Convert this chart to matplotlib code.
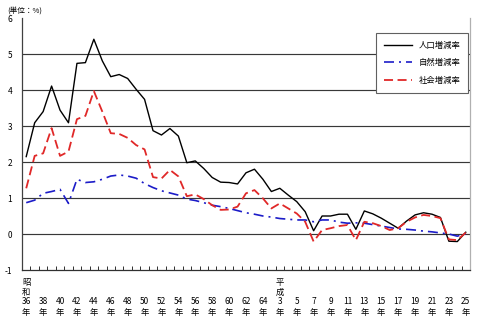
import matplotlib
matplotlib.use("Agg")
from matplotlib import pyplot as plt
from matplotlib.transforms import blended_transform_factory

plt.rcParams['font.family'] = ['Noto Sans CJK JP', 'DejaVu Sans']

# 昭和36年 (1961) - 平成25年 (2013)
years = list(range(1961, 2014))

population_rate = [2.15, 3.09, 3.4, 4.11, 3.44, 3.09, 4.74, 4.76, 5.41, 4.81,
                   4.37, 4.43, 4.32, 4.02, 3.74, 2.87, 2.75, 2.93, 2.72, 1.98,
                   2.03, 1.82, 1.57, 1.44, 1.43, 1.39, 1.7, 1.8, 1.52, 1.18,
                   1.27, 1.08, 0.9, 0.62, 0.09, 0.5, 0.5, 0.55, 0.55, 0.13,
                   0.64, 0.56, 0.44, 0.3, 0.16, 0.36, 0.53, 0.59, 0.55, 0.46,
                   -0.2, -0.21, 0.05]
natural_rate = [0.87, 0.94, 1.13, 1.18, 1.24, 0.85, 1.52, 1.43, 1.45, 1.52,
                1.61, 1.64, 1.61, 1.55, 1.4, 1.29, 1.2, 1.14, 1.08, 0.97,
                0.93, 0.87, 0.8, 0.76, 0.71, 0.65, 0.59, 0.55, 0.5, 0.47,
                0.43, 0.41, 0.39, 0.39, 0.34, 0.39, 0.39, 0.33, 0.3, 0.31,
                0.3, 0.26, 0.22, 0.18, 0.14, 0.13, 0.11, 0.08, 0.06, 0.03,
                0.0, -0.06, 0.01]
social_rate = [1.27, 2.17, 2.24, 2.94, 2.17, 2.29, 3.19, 3.28, 3.97, 3.4,
               2.8, 2.78, 2.67, 2.47, 2.35, 1.58, 1.54, 1.78, 1.6, 1.05,
               1.1, 0.97, 0.8, 0.67, 0.68, 0.76, 1.13, 1.22, 0.99, 0.71,
               0.85, 0.71, 0.57, 0.34, -0.21, 0.11, 0.16, 0.22, 0.25, -0.17,
               0.34, 0.3, 0.22, 0.11, 0.16, 0.34, 0.46, 0.53, 0.5, 0.44,
               -0.15, -0.17, 0.04]

series_names = ['人口増減率', '自然増減率', '社会増減率']


def era_label(year):
    if year <= 1989:
        return str(year - 1925)
    return str(year - 1988)


fig = plt.figure(figsize=(4.8, 3.24), dpi=100)
ax = fig.add_axes([22 / 480, 1 - 270 / 324, 448 / 480, 252 / 324])

idx = list(range(len(years)))
ax.plot(idx, population_rate, color='black', lw=1.0, label=series_names[0])
ax.plot(idx, natural_rate, color='#1c1cc8', lw=1.2,
        linestyle=(0, (6, 3, 1.2, 3)), label=series_names[1])
ax.plot(idx, social_rate, color='#e02828', lw=1.3,
        linestyle=(0, (5, 2.5)), label=series_names[2])

ax.set_xlim(-0.5, len(years) - 0.5)
ax.set_ylim(-1, 6)
for v in range(0, 6):
    ax.axhline(v, color='#383838', lw=0.85, zorder=0)

ax.set_yticks(range(-1, 7))
ax.set_yticklabels([str(v) for v in range(-1, 7)], fontsize=6)
ax.tick_params(axis='y', length=0, pad=7)

# category boundary ticks pointing up from the bottom axis
ax.set_xticks([i - 0.5 for i in range(1, len(years))])
ax.set_xticklabels([])
ax.tick_params(axis='x', direction='in', length=3, width=0.7, color='#303030')

ax.spines['top'].set_visible(False)
ax.spines['left'].set_color('#404040')
ax.spines['bottom'].set_color('#303030')
ax.spines['right'].set_color('#b0b0b0')
for s in ax.spines.values():
    s.set_linewidth(0.9)

trans = blended_transform_factory(ax.transData, fig.transFigure)
for i, y in enumerate(years):
    if i % 2:
        continue
    ax.text(i, 1 - 302 / 324, era_label(y), transform=trans, ha='center',
            va='center', fontsize=6)
    ax.text(i, 1 - 313 / 324, '年', transform=trans, ha='center',
            va='center', fontsize=6)
for i, era in [(0, '昭和'), (30, '平成')]:
    ax.text(i, 1 - 283 / 324, era[0], transform=trans, ha='center',
            va='center', fontsize=6)
    ax.text(i, 1 - 292 / 324, era[1], transform=trans, ha='center',
            va='center', fontsize=6)

fig.text(7 / 480, 1 - 11 / 324, '(単位：%)', fontsize=5.5, va='center')

leg = ax.legend(loc='upper right', bbox_to_anchor=(0.996, 0.94),
                borderaxespad=0, fontsize=6, handlelength=3.4,
                labelspacing=1.05, borderpad=0.9, fancybox=False,
                framealpha=1, edgecolor='#606060')
leg.get_frame().set_linewidth(0.8)

fig.savefig('out.png', dpi=100)
